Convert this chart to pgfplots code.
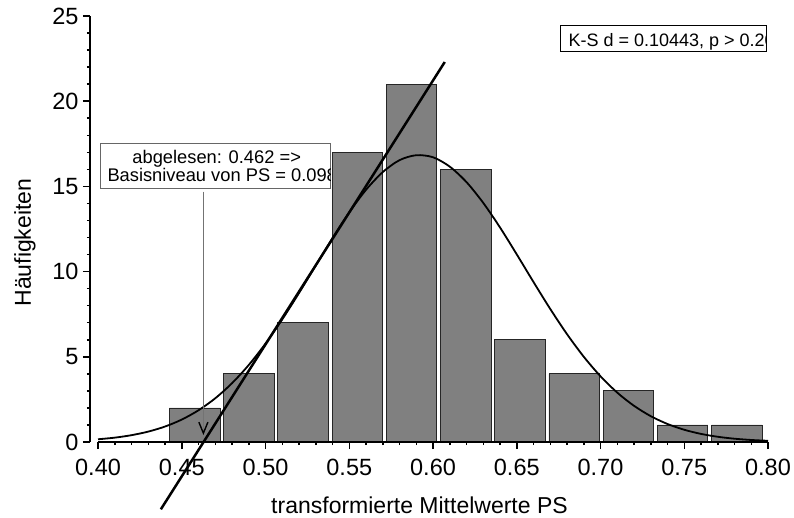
\documentclass[border=0pt]{standalone}
\usepackage{fontspec}
\setmainfont{Liberation Sans}
\usepackage{pgfplots}
\pgfplotsset{compat=1.18}
\usetikzlibrary{arrows.meta}

\begin{document}
\begin{tikzpicture}
\begin{axis}[
  scale only axis,
  width=678pt, height=426pt,
  xmin=0.3952, xmax=0.80,
  ymin=0, ymax=25,
  axis x line*=bottom, axis y line*=left,
  x axis line style={draw=none},
  y axis line style={line width=2pt},
  xtick={0.40,0.45,0.50,0.55,0.60,0.65,0.70,0.75,0.80},
  ytick={0,5,10,15,20,25},
  minor x tick num=4, minor y tick num=4,
  tick align=outside,
  major tick length=7pt, minor tick length=3pt,
  every tick/.style={black, line width=1.5pt},
  tick label style={font=\fontsize{23.5}{26}\selectfont},
  label style={font=\fontsize{23}{26}\selectfont},
  /pgf/number format/assume math mode=true,
  xticklabel style={yshift=-7pt, /pgf/number format/.cd, fixed, fixed zerofill, precision=2},
  yticklabel style={xshift=-1pt},
  xlabel={transformierte Mittelwerte PS},
  ylabel={Häufigkeiten},
  xlabel style={at={(axis description cs:0.486,-0.149)}, anchor=center},
  ylabel style={at={(axis description cs:-0.0959,0.468)}, anchor=center},
  clip=false,
]
% histogram counts
\addplot[ybar, bar width=50.5pt, fill=gray, draw=black!85, line width=0.8pt] coordinates {
  (0.4577,2) (0.4901,4) (0.5224,7) (0.5548,17) (0.5872,21) (0.6196,16)
  (0.6519,6) (0.6843,4) (0.7167,3) (0.7490,1) (0.7814,1)
};
% expected normal
\addplot[black, line width=1.8pt, smooth] coordinates {
  (0.40,0.160) (0.41,0.256) (0.42,0.401) (0.43,0.611) (0.44,0.908)
  (0.45,1.317) (0.46,1.863) (0.47,2.567) (0.48,3.451) (0.49,4.522)
  (0.50,5.779) (0.51,7.199) (0.52,8.746) (0.53,10.36) (0.54,11.97)
  (0.55,13.48) (0.56,14.80) (0.57,15.84) (0.58,16.54) (0.59,16.83)
  (0.60,16.71) (0.61,16.16) (0.62,15.25) (0.63,14.03) (0.64,12.59)
  (0.65,11.01) (0.66,9.388) (0.67,7.807) (0.68,6.329) (0.69,5.003)
  (0.70,3.856) (0.71,2.898) (0.72,2.124) (0.73,1.517) (0.74,1.057)
  (0.75,0.718) (0.76,0.476) (0.77,0.307) (0.78,0.193) (0.79,0.119)
  (0.80,0.071)
};
% tangent line
\addplot[black, line width=2.5pt] coordinates {(0.4375,-3.95) (0.607,22.3)};
\draw[black!55, line width=1pt, -{Straight Barb[length=11pt,width=9pt,color=black,line width=1.4pt]}]
  (axis cs:0.4629,14.69) -- (axis cs:0.4629,0.41);
\draw[black, line width=2pt] (axis cs:0.40,0) -- (axis cs:0.80,0);
\end{axis}
% annotation boxes
\draw[black!60, line width=0.8pt, fill=white] (10pt,253.7pt) rectangle (240.7pt,298.7pt);
\begin{scope}
  \clip (10pt,253.7pt) rectangle (240.7pt,298.7pt);
  \node[anchor=base, inner sep=0pt, font=\fontsize{18.3}{19}\selectfont] at (126.7pt,278.7pt) {abgelesen: 0.462 =>};
  \node[anchor=base west, inner sep=0pt, font=\fontsize{18.3}{19}\selectfont] at (17.3pt,260.3pt) {Basisniveau von PS = 0.098};
\end{scope}
\draw[black, line width=0.8pt, fill=white] (470.7pt,390.3pt) rectangle (676pt,417pt);
\begin{scope}
  \clip (470.7pt,390.3pt) rectangle (676pt,417pt);
  \node[anchor=base west, inner sep=0pt, font=\fontsize{18}{20}\selectfont] at (478.3pt,395.3pt) {K-S d = 0.10443, p > 0.20};
\end{scope}
\pgfresetboundingbox
\useasboundingbox (-90pt,-75pt) rectangle (704pt,442pt);
\end{tikzpicture}
\end{document}
